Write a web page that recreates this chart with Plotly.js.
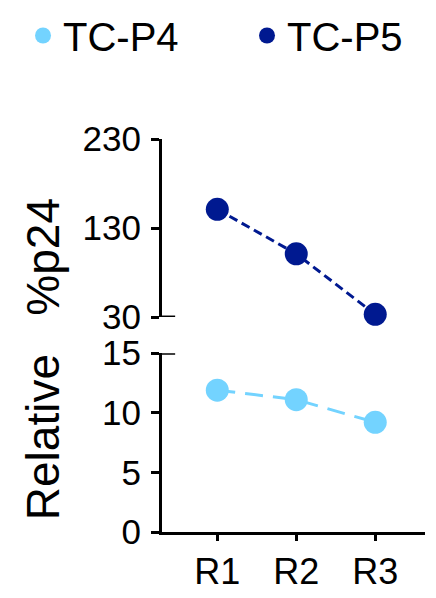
<!DOCTYPE html>
<html>
<head>
<meta charset="utf-8">
<script src="https://cdn.plot.ly/plotly-3.0.1.min.js"></script>
<style>html,body{margin:0;padding:0;background:#fff;}#chart{width:436px;height:598px;}</style>
</head>
<body>
<div id="chart"></div>
<script>
// Data
const categories = ["R1", "R2", "R3"];
const tcP4 = [11.9, 11.1, 9.2];
const tcP5 = [151, 101, 33];
const seriesNames = ["TC-P4", "TC-P5"];
const lowerTicks = [0, 5, 10, 15];
const upperTicks = [30, 130, 230];
const axisTitle = "Relative\u00a0\u00a0\u00a0%p24";

const FONT = "Liberation Sans, Arial, Helvetica, sans-serif";
const light = "#73D3FF";
const dark = "#001990";

const traces = [
  {
    x: categories, y: tcP4, name: seriesNames[0], type: "scatter", mode: "lines+markers",
    xaxis: "x", yaxis: "y", showlegend: false, cliponaxis: false,
    line: {color: light, width: 3, dash: "18px,10px"},
    marker: {color: light, size: 23}
  },
  {
    x: categories, y: tcP5, name: seriesNames[1], type: "scatter", mode: "lines+markers",
    xaxis: "x", yaxis: "y2", showlegend: false, cliponaxis: false,
    line: {color: dark, width: 3, dash: "9px,5px"},
    marker: {color: dark, size: 23}
  },
  // legend entries (markers only, as in the reference legend)
  {
    x: [null], y: [null], name: seriesNames[0], type: "scatter", mode: "markers",
    xaxis: "x", yaxis: "y", legend: "legend", showlegend: true,
    marker: {color: light, size: 23}
  },
  {
    x: [null], y: [null], name: seriesNames[1], type: "scatter", mode: "markers",
    xaxis: "x", yaxis: "y2", legend: "legend2", showlegend: true,
    marker: {color: dark, size: 23}
  }
];

const axisCommon = {
  showline: true, linecolor: "#000", linewidth: 3,
  ticks: "outside", ticklen: 8, tickwidth: 3, tickcolor: "#000",
  showgrid: false, zeroline: false,
  tickfont: {family: FONT, size: 35, color: "#000"}
};

const legendCommon = {
  orientation: "h", xanchor: "left", y: 1.346, yanchor: "top",
  font: {family: FONT, size: 40, color: "#000"},
  itemsizing: "trace", bgcolor: "rgba(0,0,0,0)"
};

const layout = {
  width: 436, height: 598,
  margin: {l: 162, r: 11, t: 139, b: 66, autoexpand: false},
  paper_bgcolor: "#fff", plot_bgcolor: "#fff",
  showlegend: true,
  legend: Object.assign({}, legendCommon, {x: -0.5285}),
  legend2: Object.assign({}, legendCommon, {x: 0.3232}),
  xaxis: Object.assign({}, axisCommon, {
    type: "category", range: [-0.7, 2.63], anchor: "y", ticklen: 6,
    tickfont: {family: FONT, size: 36, color: "#000"}
  }),
  yaxis: Object.assign({}, axisCommon, {
    domain: [0, 0.455], range: [0, 15], tickvals: lowerTicks, anchor: "x", ticklabelstandoff: 3
  }),
  yaxis2: Object.assign({}, axisCommon, {
    domain: [0.547, 1], range: [30, 230], tickvals: upperTicks, anchor: "x", ticklabelstandoff: 3
  }),
  annotations: [{
    text: axisTitle, textangle: -90, showarrow: false,
    xref: "paper", yref: "paper", x: -0.452, y: 0.44, xanchor: "center", yanchor: "middle",
    font: {family: FONT, size: 46, color: "#000"}
  }],
  shapes: [
    {type: "line", xref: "paper", yref: "y2", x0: 0, x1: 0.05, y0: 30, y1: 30, line: {color: "#000", width: 3}},
    {type: "line", xref: "paper", yref: "y", x0: 0, x1: 0.05, y0: 15, y1: 15, line: {color: "#000", width: 3}}
  ]
};

Plotly.newPlot("chart", traces, layout, {staticPlot: true, displayModeBar: false});
</script>
</body>
</html>
